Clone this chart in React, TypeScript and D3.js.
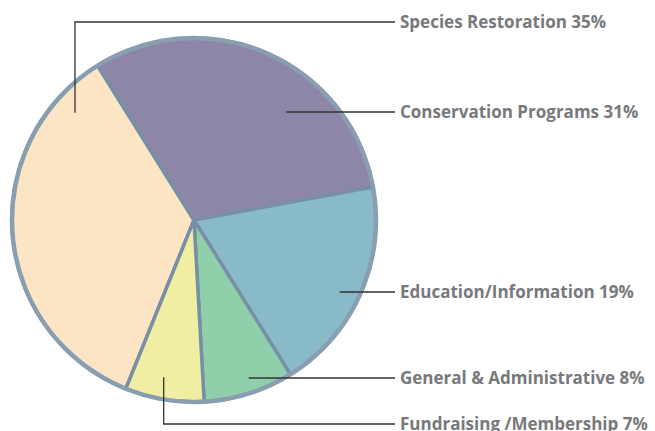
import React from "react";
import * as d3 from "d3";

const categories = ["Species Restoration", "Conservation Programs", "Education/Information", "General & Administrative", "Fundraising /Membership"];
const values = [35, 31, 19, 8, 7];
const colors = ["#fbe5c5", "#8e86a7", "#88bbc7", "#8fd0ab", "#f0eea2"];

const W = 655, H = 431;
const cx = 194, cy = 220, R = 182;
const start = (-158 * Math.PI) / 180;

// leader anchor: fraction along slice angle, fraction of radius
const anchorFrac = [0.873, 0.65, 0.53, 0.45, 0.56];
const anchorR = [0.88, 0.78, 0.89, 0.92, 0.88];
const labelY = [22, 112, 292, 378, 424];

export default function App() {
  const pie = d3.pie<number>().sort(null).value((d) => d).startAngle(start).endAngle(start + 2 * Math.PI);
  const arcs = pie(values);
  const arc = d3.arc<d3.PieArcDatum<number>>().innerRadius(0).outerRadius(R);
  const lineEnd = 395;

  const pts = arcs.map((a, i) => {
    const ang = a.startAngle + anchorFrac[i] * (a.endAngle - a.startAngle);
    const r = anchorR[i] * R;
    return [cx + r * Math.sin(ang), cy - r * Math.cos(ang)];
  });

  return (
    <svg width={W} height={H} style={{ position: "absolute", left: 0, top: 0, background: "#fff" }}>
      <g transform={`translate(${cx},${cy})`}>
        {arcs.map((a, i) => (
          <path key={i} d={arc(a) || ""} fill={colors[i]} stroke="#7790a6" strokeWidth={3.5} strokeLinejoin="round" />
        ))}
        <circle r={R} fill="none" stroke="#8a9eb2" strokeWidth={4.5} />
      </g>
      {arcs.map((a, i) => {
        const [px, py] = pts[i];
        const ly = labelY[i];
        const d = Math.abs(py - ly) < 4
          ? `M${px},${ly}H${lineEnd}`
          : `M${px},${py}V${ly}H${lineEnd}`;
        return <path key={"l" + i} d={d} fill="none" stroke="#333" strokeWidth={1.3} />;
      })}
      {categories.map((c, i) => (
        <text key={"t" + i} x={400} y={labelY[i]} dy="0.36em" fontFamily="'Open Sans', sans-serif" fontWeight={700} fontSize={17} fill="#77797c">
          {`${c} ${values[i]}%`}
        </text>
      ))}
    </svg>
  );
}
